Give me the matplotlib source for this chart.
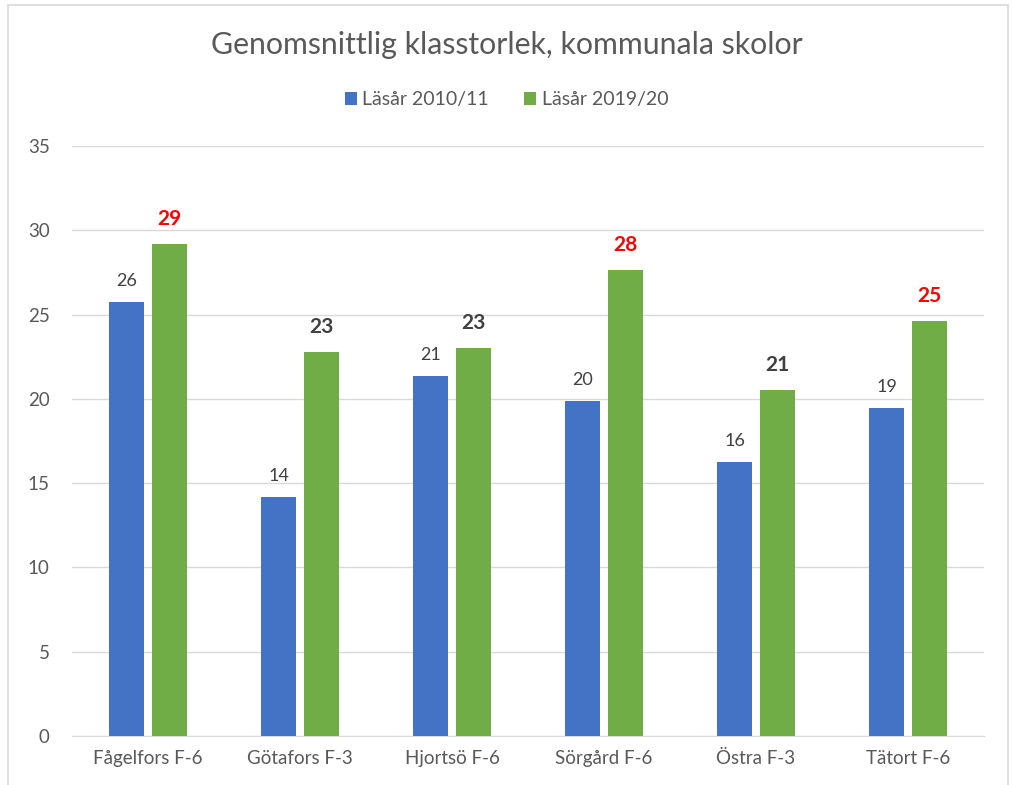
import numpy as np
import matplotlib.pyplot as plt
from matplotlib.patches import Rectangle

schools = ["Fågelfors F-6", "Götafors F-3", "Hjortsö F-6", "Sörgård F-6", "Östra F-3", "Tätort F-6"]
y2010 = [25.75, 14.18, 21.36, 19.87, 16.25, 19.46]
y2019 = [29.19, 22.78, 23.02, 27.64, 20.53, 24.62]

blue = "#4472C4"
green = "#70AD47"
grey = "#595959"
green_lbl_colors = ["#FF0000", "#404040", "#404040", "#FF0000", "#404040", "#FF0000"]

plt.rcParams['font.family'] = ['Lato', 'DejaVu Sans']

fig = plt.figure(figsize=(10.13, 7.85), dpi=100)
ax = fig.add_axes([72/1013, 49/785, 912/1013, 590/785])

x = np.arange(len(schools))
w = 0.23
b1 = ax.bar(x - 0.14, y2010, w, color=blue, label="Läsår 2010/11", zorder=3)
b2 = ax.bar(x + 0.14, y2019, w, color=green, label="Läsår 2019/20", zorder=3)

for rect, v in zip(b1, y2010):
    ax.annotate(f"{v:.0f}", (rect.get_x() + rect.get_width()/2, v), xytext=(0, 15),
                textcoords="offset points", ha="center", va="center", fontsize=13, color="#404040")
for rect, v, c in zip(b2, y2019, green_lbl_colors):
    ax.annotate(f"{v:.0f}", (rect.get_x() + rect.get_width()/2, v), xytext=(0, 18),
                textcoords="offset points", ha="center", va="center", fontsize=15,
                fontweight="bold", color=c)

ax.set_xlim(-0.5, len(schools) - 0.5)
ax.set_ylim(0, 35)
ax.set_yticks(range(0, 36, 5))
ax.set_xticks(x)
ax.set_xticklabels(schools)
ax.tick_params(axis="both", length=0, labelsize=13.5, labelcolor=grey)
ax.tick_params(axis="y", pad=16)
ax.tick_params(axis="x", pad=10)
ax.grid(axis="y", color="#D9D9D9", linewidth=1, zorder=0)
for s in ["top", "right", "left"]:
    ax.spines[s].set_visible(False)
ax.spines["bottom"].set_color("#D9D9D9")

fig.text(0.5, 1 - 45/785, "Genomsnittlig klasstorlek, kommunala skolor", ha="center", va="center",
         fontsize=21.8, color=grey)
fig.legend(loc="center", bbox_to_anchor=(0.5, 1 - 100/785), ncol=2, frameon=False,
           fontsize=14, labelcolor=grey, handlelength=0.6, handleheight=0.6,
           handletextpad=0.3, columnspacing=1.8)

fig.patches.append(Rectangle((8/1013, -0.01), 1000/1013, 1 - 5/785 + 0.01, transform=fig.transFigure,
                             fill=False, edgecolor="#D9D9D9", linewidth=1.2))

fig.savefig("out.png", dpi=100)
